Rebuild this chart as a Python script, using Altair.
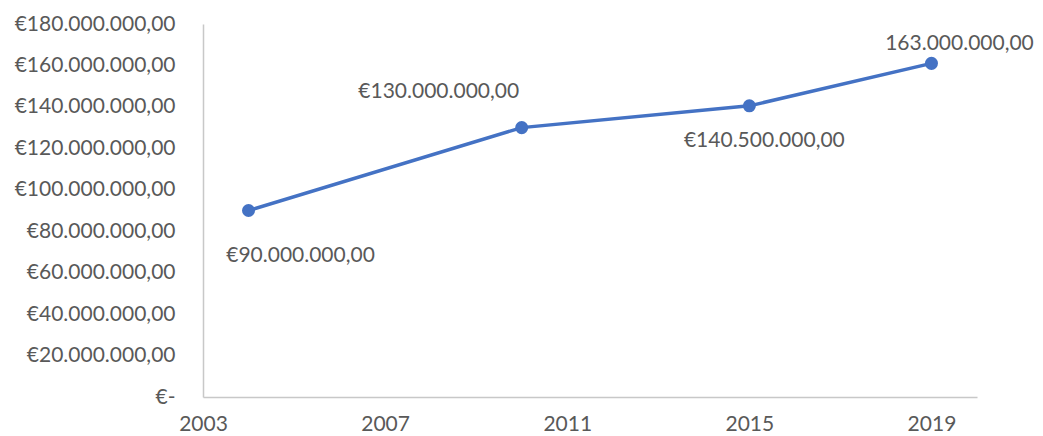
import json
import altair as alt
import pandas as pd

# Data
years = [2004, 2010, 2015, 2019]
values = [90000000, 130000000, 140500000, 161000000]
point_labels = ["€90.000.000,00", "€130.000.000,00", "€140.500.000,00", "163.000.000,00"]

x_ticks = [2003, 2007, 2011, 2015, 2019]
y_ticks = [0, 20000000, 40000000, 60000000, 80000000, 100000000,
           120000000, 140000000, 160000000, 180000000]
y_tick_labels = ["€-", "€20.000.000,00", "€40.000.000,00", "€60.000.000,00",
                 "€80.000.000,00", "€100.000.000,00", "€120.000.000,00",
                 "€140.000.000,00", "€160.000.000,00", "€180.000.000,00"]

df = pd.DataFrame({"year": years, "value": values, "label": point_labels,
                   "idx": list(range(len(years)))})

FONT = "Lato"
TXT = "#595959"
BLUE = "#4472C4"
AXIS_GREY = "#C8C8C8"

label_expr = json.dumps(y_tick_labels, ensure_ascii=False) + "[round(datum.value / 20000000)]"

x_enc = alt.X("year:Q",
              scale=alt.Scale(domain=[2003, 2020], nice=False, zero=False),
              axis=alt.Axis(values=x_ticks, format="d", title=None, grid=False,
                            ticks=False, domainColor=AXIS_GREY, domainWidth=1.5,
                            labelFont=FONT, labelFontSize=21, labelColor=TXT,
                            labelPadding=16, labelFlush=False))
y_enc = alt.Y("value:Q",
              scale=alt.Scale(domain=[0, 180000000], nice=False),
              axis=alt.Axis(values=y_ticks, labelExpr=label_expr, title=None,
                            grid=False, ticks=False, domainColor=AXIS_GREY,
                            domainWidth=1.5, labelFont=FONT, labelFontSize=21,
                            labelColor=TXT, labelPadding=28, labelFlush=False))

base = alt.Chart(df)

line = base.mark_line(color=BLUE, strokeWidth=3.5).encode(x=x_enc, y=y_enc)
pts = base.mark_point(filled=True, color=BLUE, size=170, opacity=1).encode(x="year:Q", y="value:Q")

offsets = [(52, 45), (-83, -36), (15, 35), (28, -19)]
texts = []
for i, (dx, dy) in enumerate(offsets):
    texts.append(
        base.transform_filter(alt.datum.idx == i)
        .mark_text(font=FONT, fontSize=21, color=TXT, align="center",
                   baseline="middle", dx=dx, dy=dy)
        .encode(x="year:Q", y="value:Q", text="label:N")
    )

chart = alt.layer(line, pts, *texts).properties(
    width=774, height=373,
    background="white",
    autosize=alt.AutoSizeParams(type="none"),
    padding={"left": 195, "top": 16, "right": 58, "bottom": 40},
).configure_view(stroke=None)

chart.save("out.html", embed_options={"renderer": "svg", "actions": False})
